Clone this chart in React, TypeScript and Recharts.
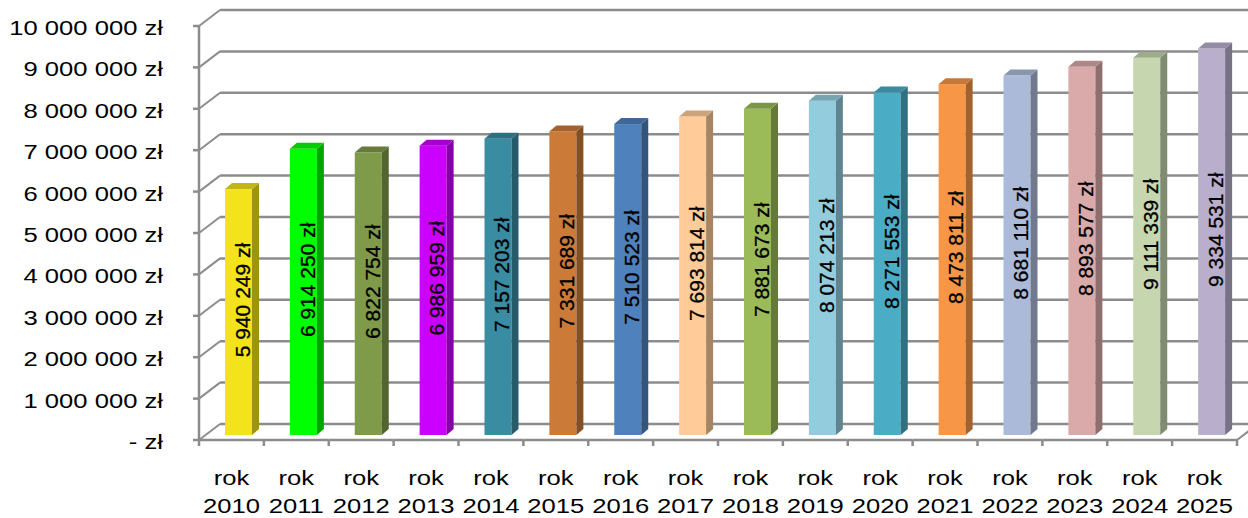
import React from "react";
import { Bar, BarChart, CartesianGrid, LabelList, XAxis, YAxis } from "recharts";

const categories = [
  "rok 2010", "rok 2011", "rok 2012", "rok 2013", "rok 2014", "rok 2015", "rok 2016", "rok 2017",
  "rok 2018", "rok 2019", "rok 2020", "rok 2021", "rok 2022", "rok 2023", "rok 2024", "rok 2025",
];

const amounts = [
  5940249, 6914250, 6822754, 6986959, 7157203, 7331689, 7510523, 7693814,
  7881673, 8074213, 8271553, 8473811, 8681110, 8893577, 9111339, 9334531,
];

const yTicks = [0, 1000000, 2000000, 3000000, 4000000, 5000000, 6000000, 7000000, 8000000, 9000000, 10000000];

const barColors = [
  "#F2E31B", "#00FF00", "#7F9A48", "#CC00FF", "#3A8CA3", "#CC7A38", "#4F81BD", "#FFCC99",
  "#9BBB59", "#93CDDD", "#4BACC6", "#F79646", "#ACBAD9", "#DAAAAA", "#C6D6AE", "#B9AFCD",
];

const data = categories.map((name, i) => ({ name, value: amounts[i] }));

// layout of the fake 3D box
const W = 1248;
const H = 518;
const PLOT_LEFT = 206;
const PLOT_RIGHT = 1244;
const PLOT_TOP = 21;
const PLOT_BOTTOM = 435;
const FRONT_DX = -7;
const FRONT_DY = 5;
const BACK_DX = 14;
const BACK_DY = -11;
const DEPTH_X = 7;
const DEPTH_Y = 6;
const LINE = "#8C8C8C";
const FONT = "'Liberation Sans', Arial, sans-serif";
const STRETCH = 1.22;

const fmt = (v: number) =>
  v === 0 ? "- zł" : String(v).replace(/\B(?=(\d{3})+(?!\d))/g, " ") + " zł";

const shade = (hex: string, k: number) => {
  const n = parseInt(hex.slice(1), 16);
  const c = [(n >> 16) & 255, (n >> 8) & 255, n & 255].map((v) => Math.round(v * k));
  return `rgb(${c[0]},${c[1]},${c[2]})`;
};

const Bar3D = (props: any) => {
  const { x, y, width, height, index } = props;
  if (!height || height <= 0) return null;
  const front = barColors[index % barColors.length];
  const r = x + width;
  return (
    <g>
      <rect x={x} y={y} width={width} height={height} fill={front} />
      <polygon
        points={`${r},${y} ${r + DEPTH_X},${y - DEPTH_Y} ${r + DEPTH_X},${y + height - DEPTH_Y} ${r},${y + height}`}
        fill={shade(front, 0.65)}
      />
      <polygon
        points={`${x},${y} ${x + DEPTH_X},${y - DEPTH_Y} ${r + DEPTH_X},${y - DEPTH_Y} ${r},${y}`}
        fill={shade(front, 0.8)}
      />
    </g>
  );
};

const ValueLabel = (props: any) => {
  const vb = props.viewBox ?? props;
  const { x, y, width, height } = vb;
  const cx = x + width / 2 + 4;
  const cy = y + height / 2 - 12;
  return (
    <text
      transform={`translate(${cx},${cy}) rotate(-90)`}
      textAnchor="middle"
      dy="0.35em"
      fontFamily={FONT}
      fontSize={21}
      fill="#000"
      stroke="#000"
      strokeWidth={0.3}
    >
      {fmt(props.value)}
    </text>
  );
};

const GridLine = (props: any) => {
  const y = props.y1;
  const fy = y + FRONT_DY;
  const fx = PLOT_LEFT + FRONT_DX;
  const by = y + BACK_DY;
  const bx = PLOT_LEFT + BACK_DX;
  return (
    <g key={props.key}>
      {props.index === 0 && (
        <line x1={fx} y1={PLOT_TOP + FRONT_DY} x2={fx} y2={PLOT_BOTTOM + FRONT_DY} stroke={LINE} strokeWidth={2.5} />
      )}
      <line x1={fx - 6} y1={fy} x2={fx} y2={fy} stroke={LINE} strokeWidth={2.5} />
      <line x1={fx} y1={fy} x2={bx} y2={by} stroke={LINE} strokeWidth={2} />
      <line x1={bx} y1={by} x2={W} y2={by} stroke={LINE} strokeWidth={2.5} />
    </g>
  );
};

const YTick = (props: any) => {
  const { y, payload } = props;
  return (
    <text
      transform={`translate(163,${y + FRONT_DY + 9}) scale(${STRETCH},1)`}
      textAnchor="end"
      fontFamily={FONT}
      fontSize={21}
      fill="#000"
    >
      {fmt(payload.value)}
    </text>
  );
};

const XTick = (props: any) => {
  const { x, payload, index } = props;
  const band = (PLOT_RIGHT - PLOT_LEFT) / categories.length;
  const cx = x + FRONT_DX;
  const left = cx - band / 2;
  const right = cx + band / 2;
  const fy = PLOT_BOTTOM + FRONT_DY;
  const [word, year] = String(payload.value).split(" ");
  const last = index === categories.length - 1;
  return (
    <g>
      <line x1={left} y1={fy} x2={right} y2={fy} stroke={LINE} strokeWidth={2.5} />
      <line x1={left} y1={fy} x2={left} y2={fy + 6} stroke={LINE} strokeWidth={2.5} />
      {last && <line x1={right} y1={fy} x2={right} y2={fy + 6} stroke={LINE} strokeWidth={2.5} />}
      {last && (
        <line x1={right} y1={fy} x2={right + BACK_DX - FRONT_DX} y2={fy + BACK_DY - FRONT_DY} stroke={LINE} strokeWidth={2} />
      )}
      <g transform={`translate(${cx},0) scale(${STRETCH},1)`}>
        <text x={0} y={PLOT_BOTTOM + 50} textAnchor="middle" fontFamily={FONT} fontSize={21} fill="#000">
          {word}
        </text>
        <text x={0} y={PLOT_BOTTOM + 78} textAnchor="middle" fontFamily={FONT} fontSize={21} fill="#000">
          {year}
        </text>
      </g>
    </g>
  );
};

export default function App() {
  return (
    <div style={{ position: "absolute", left: 0, top: 0, background: "#fff" }}>
      <BarChart
        width={W}
        height={H}
        data={data}
        margin={{ top: PLOT_TOP, right: W - PLOT_RIGHT, bottom: 0, left: 0 }}
      >
        <CartesianGrid vertical={false} horizontal={GridLine} />
        <XAxis
          dataKey="name"
          interval={0}
          height={H - PLOT_BOTTOM}
          axisLine={false}
          tickLine={false}
          tick={XTick}
        />
        <YAxis
          width={PLOT_LEFT}
          domain={[0, 10000000]}
          ticks={yTicks}
          interval={0}
          axisLine={false}
          tickLine={false}
          tick={YTick}
        />
        <Bar dataKey="value" barSize={27} shape={Bar3D} isAnimationActive={false}>
          <LabelList dataKey="value" content={ValueLabel} />
        </Bar>
      </BarChart>
    </div>
  );
}
